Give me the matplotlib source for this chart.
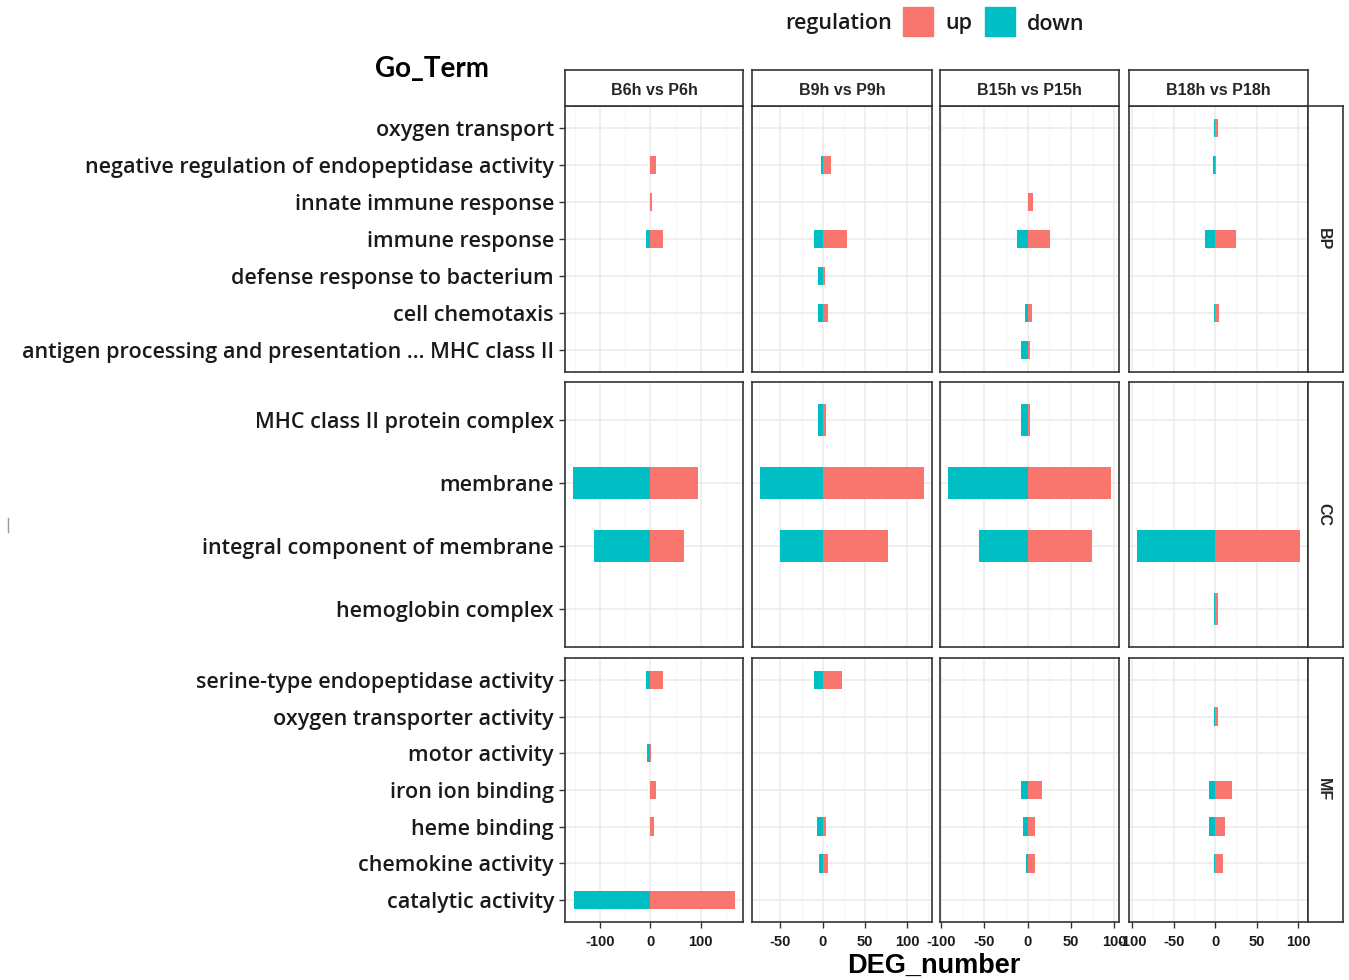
import matplotlib
matplotlib.use("Agg")
import matplotlib.pyplot as plt
from matplotlib.patches import Rectangle
from matplotlib.lines import Line2D

# ---------------------------------------------------------------- data
comparisons = ["B6h vs P6h", "B9h vs P9h", "B15h vs P15h", "B18h vs P18h"]
categories = ["BP", "CC", "MF"]

# terms listed top -> bottom as they appear in each facet row
bp_terms = ["oxygen transport",
            "negative regulation of endopeptidase activity",
            "innate immune response",
            "immune response",
            "defense response to bacterium",
            "cell chemotaxis",
            "antigen processing and presentation ... MHC class II"]
cc_terms = ["MHC class II protein complex",
            "membrane",
            "integral component of membrane",
            "hemoglobin complex"]
mf_terms = ["serine-type endopeptidase activity",
            "oxygen transporter activity",
            "motor activity",
            "iron ion binding",
            "heme binding",
            "chemokine activity",
            "catalytic activity"]

# one list per comparison (B6h, B9h, B15h, B18h), values follow the term order
bp_up = [[0, 10, 4, 25, 0, 0, 0],
         [0, 10, 0, 29, 3, 6, 0],
         [0, 0, 6, 26, 0, 5, 3],
         [3, 1, 0, 25, 0, 5, 0]]
bp_down = [[0, 0, 0, 8, 0, 0, 0],
           [0, 2, 0, 10, 5, 5, 0],
           [0, 0, 0, 13, 0, 3, 8],
           [2, 3, 0, 12, 0, 1, 0]]

cc_up = [[0, 95, 67, 0],
         [4, 120, 77, 0],
         [2, 96, 74, 0],
         [0, 0, 102, 3]]
cc_down = [[0, 154, 113, 0],
           [5, 74, 51, 0],
           [8, 92, 56, 0],
           [0, 0, 94, 2]]

mf_up = [[25, 0, 1, 11, 7, 0, 168],
         [23, 0, 0, 0, 4, 6, 0],
         [0, 0, 0, 16, 8, 8, 0],
         [0, 3, 0, 20, 12, 10, 0]]
mf_down = [[8, 0, 7, 0, 0, 0, 153],
           [10, 0, 0, 0, 7, 4, 0],
           [0, 0, 0, 8, 5, 2, 0],
           [0, 2, 0, 8, 8, 1, 0]]

x_breaks = [[-100, 0, 100],
            [-50, 0, 50, 100],
            [-100, -50, 0, 50, 100],
            [-100, -50, 0, 50, 100]]

rows = [(bp_terms, bp_up, bp_down),
        (cc_terms, cc_up, cc_down),
        (mf_terms, mf_up, mf_down)]

UP = "#F8766D"
DOWN = "#00BFC4"
FRAME = "#333333"
LABEL_FONT = ["Open Sans", "DejaVu Sans"]
NARROW_FONT = ["Liberation Sans Narrow", "Liberation Sans", "DejaVu Sans"]

# ---------------------------------------------------------------- layout (pixels)
W, H = 1349, 980
fig = plt.figure(figsize=(W / 100, H / 100), dpi=100)


def px_axes(x0, y0, x1, y1):
    return fig.add_axes([x0 / W, 1 - y1 / H, (x1 - x0) / W, (y1 - y0) / H])


col_x = [(565, 743), (752, 932), (940, 1119), (1129, 1308)]
row_y = [(106, 372), (382, 647), (658, 922)]

# free x-scale per column, ggplot-style 5% expansion
col_lims = []
for c in range(4):
    lo = min(min(-d for d in rw[2][c]) for rw in rows)
    hi = max(max(rw[1][c]) for rw in rows)
    pad = (hi - lo) * 0.05
    col_lims.append((lo - pad, hi + pad))

for r, (terms, up, down) in enumerate(rows):
    n = len(terms)
    ypos = [n - 1 - i for i in range(n)]
    for c in range(4):
        ax = px_axes(col_x[c][0], row_y[r][0], col_x[c][1], row_y[r][1])
        ax.set_axisbelow(True)
        ax.barh(ypos, up[c], height=0.5, color=UP, lw=0)
        ax.barh(ypos, [-d for d in down[c]], height=0.5, color=DOWN, lw=0)

        br = x_breaks[c]
        step = br[1] - br[0]
        minor = [br[0] - step / 2] + [b + step / 2 for b in br]
        ax.set_xticks(br)
        ax.set_xticks(minor, minor=True)
        # limits after the ticks, otherwise set_xticks widens the view
        ax.set_xlim(*col_lims[c])
        ax.grid(which="major", color="#EBEBEB", lw=1.1)
        ax.grid(which="minor", axis="x", color="#F4F4F4", lw=0.6)
        ax.tick_params(which="minor", length=0)
        for s in ax.spines.values():
            s.set_color(FRAME)
            s.set_linewidth(1.2)

        if c == 0:
            ax.set_yticks(ypos, terms, fontfamily=LABEL_FONT, fontsize=15.5,
                          fontweight=600, color="#1A1A1A")
            ax.tick_params(axis="y", length=4, width=1, color=FRAME, pad=4)
        else:
            ax.set_yticks(ypos, [""] * n)
            ax.tick_params(axis="y", length=0)
        ax.set_ylim(-0.6, n - 0.4)

        if r == len(rows) - 1:
            ax.set_xticklabels([str(b) for b in br], fontfamily=NARROW_FONT,
                               fontsize=10.5, fontweight="bold", color="#1A1A1A")
            ax.tick_params(axis="x", length=4, width=1, color=FRAME, pad=5)
        else:
            ax.set_xticklabels([])
            ax.tick_params(axis="x", length=0)

# ---------------------------------------------------------------- strips
for c, name in enumerate(comparisons):
    sax = px_axes(col_x[c][0], 70, col_x[c][1], 106)
    sax.set_xticks([])
    sax.set_yticks([])
    for s in sax.spines.values():
        s.set_color(FRAME)
        s.set_linewidth(1.2)
    sax.text(0.5, 0.42, name, ha="center", va="center", fontsize=11.5,
             fontweight="bold", fontfamily=NARROW_FONT, color="#262626",
             transform=sax.transAxes)

for r, name in enumerate(categories):
    sax = px_axes(1308, row_y[r][0], 1343, row_y[r][1])
    sax.set_xticks([])
    sax.set_yticks([])
    for s in sax.spines.values():
        s.set_color(FRAME)
        s.set_linewidth(1.2)
    sax.text(0.45, 0.5, name, ha="center", va="center", rotation=-90,
             fontsize=11.5, fontweight="bold", fontfamily=NARROW_FONT,
             color="#262626", transform=sax.transAxes)

# ---------------------------------------------------------------- legend
fig.text(785 / W, 1 - 24 / H, "regulation", ha="left", va="center",
         fontsize=15.5, fontweight=600, fontfamily=LABEL_FONT, color="#1A1A1A")
for x0, col, lab in [(903, UP, "up"), (985, DOWN, "down")]:
    fig.patches.append(Rectangle((x0 / W, 1 - 36 / H), 30 / W, 29 / H,
                                 transform=fig.transFigure, color=col))
    fig.text((x0 + 42) / W, 1 - 24 / H, lab, ha="left", va="center",
             fontsize=15.5, fontweight=600, fontfamily=LABEL_FONT, color="#1A1A1A")

# ---------------------------------------------------------------- titles
fig.text(432 / W, 1 - 69 / H, "Go_Term", ha="center", va="center",
         fontsize=20, fontweight="bold", fontfamily=["Lato", "DejaVu Sans"])
fig.text(934 / W, 1 - 966 / H, "DEG_number", ha="center", va="center",
         fontsize=19.5, fontweight="bold", fontfamily=["Liberation Sans", "DejaVu Sans"])

# stray mark on the left edge of the original image
fig.add_artist(Line2D([8 / W, 8 / W], [1 - 518 / H, 1 - 532 / H],
                      color="#999999", lw=1))

fig.savefig("out.png", dpi=100)
